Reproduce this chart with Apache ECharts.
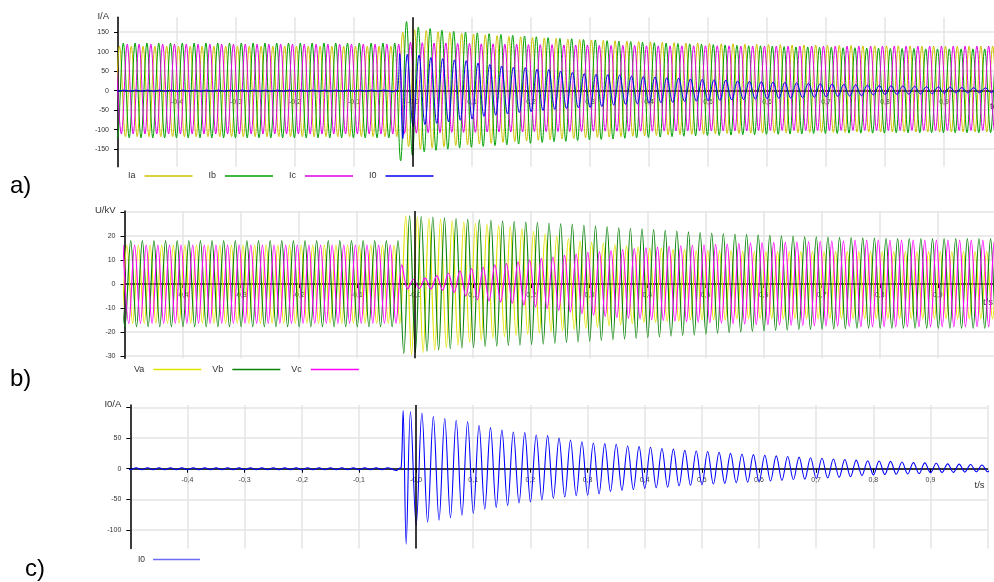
<!DOCTYPE html>
<html><head><meta charset="utf-8">
<script src="https://cdn.jsdelivr.net/npm/echarts@6/dist/echarts.min.js"></script>
<style>html,body{margin:0;padding:0;background:#fff}#c{width:994px;height:582px}</style>
</head><body><div id="c"></div>
<script>
// ---- time base: extremes every half period of a 50 Hz signal ----
const HALF = 0.01, PERIOD = 0.02;

// ---- tick labels ----
const X_MIN = -0.5, X_MAX = 1.0, X_STEP = 0.1;
const A_TICKS = [-150, -100, -50, 0, 50, 100, 150];
const B_TICKS = [-30, -20, -10, 0, 10, 20, 30];
const B_LABELS = [-30, -20, -10, 0, 10, 20];
const C_TICKS = [-100, -50, 0, 50, 100];
const C_LABELS = [-100, -50, 0, 50];

// ---- a) phase currents: successive positive peaks / negative troughs (A) ----
const IA_T0 = -0.5175;
const IA_PK = [114,114,114,114,114,114,114,114,114,114,114,114,114,114,114,114,114,114,114,114,114,114,114,114,114,
  150,156,154,151,149,147,145,143,141,139,138,136,135,134,132,131,130,129,128,127,126,125,124,123,122,122,121,120,120,119,
  119,118,118,117,117,117,116,116,116,115,115,115,115,115,114,114,114,114,114,114,114,114];
const IA_TR = [-118,-118,-118,-118,-118,-118,-118,-118,-118,-118,-118,-118,-118,-118,-118,-118,-118,-118,-118,-118,-118,-118,-118,-118,-118,
  -144,-150,-147,-144,-141,-139,-137,-135,-133,-131,-129,-127,-126,-124,-123,-121,-120,-119,-118,-117,-116,-115,-114,-113,-112,
  -112,-111,-110,-110,-109,-109,-108,-108,-108,-107,-107,-107,-107,-106,-106,-106,-106,-106,-106,-106,-106,-106,-106,-106,-106,-106,-106];

const IB_T0 = -0.5110;
const IB_PK = [122,122,122,122,122,122,122,122,122,122,122,122,122,122,122,122,122,122,122,122,122,122,122,122,122,
  177,163,159,155,152,150,148,146,144,142,140,138,136,134,133,131,130,128,127,126,124,123,122,121,120,119,118,117,116,115,
  115,114,113,112,112,111,111,110,110,109,109,108,108,108,107,107,107,107,107,107,107,107];
const IB_TR = [-121,-121,-121,-121,-121,-121,-121,-121,-121,-121,-121,-121,-121,-121,-121,-121,-121,-121,-121,-121,-121,-121,-121,-121,
  -180,-166,-157,-153,-150,-147,-145,-143,-141,-139,-137,-135,-133,-131,-130,-128,-126,-125,-124,-122,-121,-120,-119,-118,-117,
  -116,-115,-115,-114,-113,-113,-112,-112,-111,-111,-110,-110,-110,-109,-109,-109,-109,-108,-108,-108,-108,-108,-108,-108,-108,-108,-108,-108];

const IC_T0 = -0.5043;
const IC_PK = [119,119,119,119,119,119,119,119,119,119,119,119,119,119,119,119,119,119,119,119,119,119,119,119,119,
  124,123,122,122,121,121,120,120,119,119,118,118,118,117,117,117,116,116,116,116,115,115,115,115,115,115,115,115,114,114,
  114,114,114,114,114,114,114,114,114,114,114,114,114,114,114,114,114,114,114,114,114,114];
const IC_TR = [-111,-111,-111,-111,-111,-111,-111,-111,-111,-111,-111,-111,-111,-111,-111,-111,-111,-111,-111,-111,-111,-111,-111,-111,
  -110,-109,-108,-108,-107,-107,-107,-106,-106,-106,-106,-105,-105,-105,-105,-105,-104,-104,-104,-104,-104,-104,-103,-103,-103,
  -103,-103,-103,-103,-103,-102,-102,-102,-102,-102,-102,-102,-102,-102,-102,-102,-102,-102,-102,-102,-102,-102,-102,-102,-102,-102,-102,-102];

// ---- zero-sequence current I0 (A): pre-fault ripple, fault transient, decaying oscillation ----
const I0_PRE_T0 = -0.5098;
const I0_PRE_PK = [1.5,1.5,1.5,1.5,1.5,1.5,1.5,1.5,1.5,1.5,1.5,1.5,1.5,1.5,1.5,1.5,1.5,1.5,1.5,1.5,1.5,1.5,1.5,1.5];
const I0_PRE_TR = [-1.5,-1.5,-1.5,-1.5,-1.5,-1.5,-1.5,-1.5,-1.5,-1.5,-1.5,-1.5,-1.5,-1.5,-1.5,-1.5,-1.5,-1.5,-1.5,-1.5,-1.5,-1.5,-1.5,-1.5];
const I0_TRANS_T = [-0.034, -0.030, -0.026, -0.0226, -0.0173];
const I0_TRANS_V = [-3, 0.5, 2, 95, -123];
const I0_T0 = -0.0098;
const I0_PK = [93,91,85,82,79,77,71,67,63,60,59,55,54,50,47,44,42,41,40,37,36,35,33,32,30,29,28,27,25,24,
  23,22,21,20,19,18,17,16,15,14,13,12.5,12,11,10,9.5,9,8,7.5,7,6,6];
const I0_TR = [-92,-87,-84,-80,-76,-73,-66,-63,-60,-56,-54,-51,-48,-46,-44,-43,-41,-37,-35,-34,-32,-31,-30,-28,
  -27,-26,-25,-24,-23,-22,-21,-20,-19,-18,-17,-16,-15,-14,-13,-11,-10,-9.5,-9,-8.5,-8,-6.5,-6,-6,-5.5,-5,-5,-5];

// ---- b) phase voltages (kV) ----
const VA_T0 = -0.5160;
const VA_PK = [16.3,16.3,16.3,16.3,16.3,16.3,16.3,16.3,16.3,16.3,16.3,16.3,16.3,16.3,16.3,16.3,16.3,16.3,16.3,16.3,16.3,16.3,16.3,16.3,16.3,
  28.5,28,27.5,27,26.5,26,25.5,25,24.5,24,23,22,21,20,19,18,17.5,17,16.5,16,15.5,15,15,14.5,14.5,14,14,14,14,
  13.5,13.5,13.5,13.5,13.5,13.5,13.5,13.5,13.5,13.5,13.5,13.5,13.5,13.5,13.5,13.5,13.5,13.5,13.5,13.5,13.5,13.5,13.5];
const VA_TR = [-16.4,-16.4,-16.4,-16.4,-16.4,-16.4,-16.4,-16.4,-16.4,-16.4,-16.4,-16.4,-16.4,-16.4,-16.4,-16.4,-16.4,-16.4,-16.4,-16.4,-16.4,-16.4,-16.4,-16.4,-16.4,
  -29.5,-28.5,-27.5,-26.5,-25.5,-24.5,-23.5,-22.5,-22,-21.5,-21,-20.5,-20,-19.5,-19,-18.5,-18,-17.5,-17,-16.5,-16,-16,-15.5,-15.5,-15,-15,-15,-15,
  -14.5,-14.5,-14.5,-14.5,-14.5,-14.5,-14.5,-14.5,-14.5,-14.5,-14.5,-14.5,-14.5,-14.5,-14.5,-14.5,-14.5,-14.5,-14.5,-14.5,-14.5,-14.5,-14.5,-14.5];

const VB_T0 = -0.5093;
const VB_PK = [18.1,18.1,18.1,18.1,18.1,18.1,18.1,18.1,18.1,18.1,18.1,18.1,18.1,18.1,18.1,18.1,18.1,18.1,18.1,18.1,18.1,18.1,18.1,18.1,18.1,
  28.5,28.2,28,27.6,27.3,27,26.8,26.6,26.4,26.2,26,25.8,25.5,25.2,25,24.6,24.3,24,23.6,23.3,23,22.7,22.4,22.1,21.8,21.5,21.3,21.1,20.9,20.7,
  20.5,20.3,20.1,20,19.8,19.7,19.6,19.5,19.4,19.3,19.2,19.1,19,19,19,19,19,19,19,19,19,19];
const VB_TR = [-17.8,-17.8,-17.8,-17.8,-17.8,-17.8,-17.8,-17.8,-17.8,-17.8,-17.8,-17.8,-17.8,-17.8,-17.8,-17.8,-17.8,-17.8,-17.8,-17.8,-17.8,-17.8,-17.8,-17.8,
  -29,-28.5,-28,-27.5,-27,-26.7,-26.4,-26.1,-25.9,-25.7,-25.5,-25.3,-25.1,-24.8,-24.5,-24.2,-23.9,-23.6,-23.3,-23,-22.7,-22.4,-22.1,-21.8,-21.5,-21.2,-20.9,-20.6,-20.3,-20,
  -19.8,-19.6,-19.4,-19.2,-19,-18.9,-18.8,-18.7,-18.6,-18.5,-18.5,-18.5,-18.5,-18.5,-18.5,-18.5,-18.5,-18.5,-18.5,-18.5,-18.5,-18.5,-18.5];

const VC_T0 = -0.5026;
const VC_PK = [16.3,16.3,16.3,16.3,16.3,16.3,16.3,16.3,16.3,16.3,16.3,16.3,16.3,16.3,16.3,16.3,16.3,16.3,16.3,16.3,16.3,16.3,16.3,16.3,
  8,2,2.5,3.5,4.5,5.5,6.5,7,8,8.5,9.3,10,10.7,11.3,12,12.5,13.2,13.6,14,14.4,14.8,15.1,15.4,15.7,16,16.2,16.4,16.6,16.8,17,
  17.2,17.3,17.4,17.5,17.6,17.7,17.8,17.9,18,18.3,18.3,18.3,18.3,18.3,18.3,18.3,18.3,18.3,18.3,18.3,18.3,18.3,18.3];
const VC_TR = [-16.4,-16.4,-16.4,-16.4,-16.4,-16.4,-16.4,-16.4,-16.4,-16.4,-16.4,-16.4,-16.4,-16.4,-16.4,-16.4,-16.4,-16.4,-16.4,-16.4,-16.4,-16.4,-16.4,-16.4,
  -2,-1.8,-2,-2.5,-3.5,-5,-6.5,-7,-7.5,-8,-8.7,-9.5,-10.2,-11,-11.7,-12.4,-13,-13.5,-14,-14.3,-14.6,-14.9,-15.2,-15.5,-15.7,
  -15.9,-16.1,-16.3,-16.5,-16.7,-16.9,-17,-17.1,-17.2,-17.3,-17.4,-17.5,-17.6,-17.7,-17.8,-17.8,-17.8,-17.8,-17.8,-17.8,-17.8,-17.8,-17.8,-17.8,-17.8,-17.8,-17.8,-17.8];

// ---- build point lists ----
function wave(t0, pk, tr) {
  const out = [];
  for (let k = 0; k < pk.length; k++) {
    out.push([+(t0 + PERIOD * k).toFixed(4), pk[k]]);
    if (k < tr.length) out.push([+(t0 + PERIOD * k + HALF).toFixed(4), tr[k]]);
  }
  return out;
}
const I0_DATA = wave(I0_PRE_T0, I0_PRE_PK, I0_PRE_TR)
  .concat(I0_TRANS_T.map((t, i) => [t, I0_TRANS_V[i]]))
  .concat(wave(I0_T0, I0_PK, I0_TR));

const FONT = 'Liberation Sans, Arial, sans-serif';
const fmtX = v => (Math.abs(v) < 1e-9 ? '-0,0' : (+v).toFixed(1).replace('.', ','));

// grid geometry (pixels) and y ranges
const GRIDS = [
  { left: 118, width: 885, top: 17.3, height: 149.4, ymin: -195, ymax: 188 },
  { left: 124.5, width: 871.5, top: 211, height: 147.3, ymin: -31, ymax: 30.5 },
  { left: 130.3, width: 857.3, top: 405, height: 143.4, ymin: -130, ymax: 104 }
];
const zeroOffset = g => -(g.height * (0 - g.ymin) / (g.ymax - g.ymin));

function xAxis(gi, gap, nameDy) {
  return {
    type: 'value', gridIndex: gi, min: X_MIN, max: X_MAX, interval: X_STEP,
    position: 'bottom', offset: zeroOffset(GRIDS[gi]),
    axisLine: { onZero: false, lineStyle: { color: '#000', width: 1.5 } },
    axisTick: { show: true, length: 4, lineStyle: { color: '#000', width: 1 } },
    axisLabel: { fontSize: 7, color: '#444', margin: 8, showMinLabel: false, showMaxLabel: false, formatter: fmtX, fontFamily: FONT },
    splitLine: { show: true, lineStyle: { color: '#e4e4e4', width: 1.5 } },
    name: 't/s', nameLocation: 'end', nameGap: gap,
    nameTextStyle: { fontSize: 9.5, color: '#333', align: 'right', verticalAlign: 'top', padding: [nameDy, 0, 0, 0], fontFamily: FONT }
  };
}
function yAxis(gi, ticks, labels, name) {
  const g = GRIDS[gi];
  return {
    type: 'value', gridIndex: gi, min: g.ymin, max: g.ymax,
    axisLine: { show: true, onZero: false, lineStyle: { color: '#000', width: 1.5 } },
    axisTick: { show: true, length: 4, customValues: ticks, lineStyle: { color: '#000', width: 1 } },
    axisLabel: { fontSize: 7, color: '#333', margin: 9, customValues: labels, fontFamily: FONT },
    splitLine: { show: true, lineStyle: { color: '#e4e4e4', width: 1.5 } },
    name: name, nameLocation: 'end', nameGap: 1,
    nameTextStyle: { fontSize: 9.5, color: '#333', align: 'right', verticalAlign: 'middle', padding: [0, 9, 0, 0], fontFamily: FONT }
  };
}
const ZERO_MARK = {
  silent: true, symbol: ['none', 'none'], label: { show: false },
  lineStyle: { color: '#000', width: 1.5, type: 'solid' }, data: [{ xAxis: 0 }]
};
function line(name, gi, data, color, width, mark) {
  const s = {
    name: name, type: 'line', xAxisIndex: gi, yAxisIndex: gi, data: data,
    smooth: 0.36, showSymbol: false, symbol: 'none', silent: true,
    lineStyle: { color: color, width: width }, itemStyle: { color: color }
  };
  if (mark) s.markLine = ZERO_MARK;
  return s;
}

const chart = echarts.init(document.getElementById('c'), null, { renderer: 'canvas' });
chart.setOption({
  animation: false,
  backgroundColor: '#fff',
  textStyle: { fontFamily: FONT },
  grid: GRIDS.map(g => ({ left: g.left, width: g.width, top: g.top, height: g.height, containLabel: false, outerBoundsMode: 'none' })),
  xAxis: [xAxis(0, -3, 11), xAxis(1, -3, 13), xAxis(2, -3, 12)],
  yAxis: [
    yAxis(0, A_TICKS, A_TICKS, 'I/A'),
    yAxis(1, B_TICKS, B_LABELS, 'U/kV'),
    yAxis(2, C_TICKS, C_LABELS, 'I0/A')
  ],
  legend: [
    { data: ['Ia', 'Ib', 'Ic', 'I0'], left: 128, top: 171.5, padding: 0, align: 'right', icon: 'rect',
      itemWidth: 48, itemHeight: 1.5, itemGap: 16, textStyle: { fontSize: 9, color: '#333', padding: [0, 4, 0, 0], fontFamily: FONT } },
    { data: ['Va', 'Vb', 'Vc'], left: 134, top: 365, padding: 0, align: 'right', icon: 'rect',
      itemWidth: 48, itemHeight: 1.5, itemGap: 11, textStyle: { fontSize: 9, color: '#333', padding: [0, 4, 0, 0], fontFamily: FONT } },
    { data: [{ name: 'I0 ', itemStyle: { color: '#6b6bf5' } }], left: 138, top: 555, padding: 0, align: 'right', icon: 'rect',
      itemWidth: 47, itemHeight: 1.5, formatter: n => n.trim(),
      textStyle: { fontSize: 8.5, color: '#333', padding: [0, 3, 0, 0], fontFamily: FONT } }
  ],
  graphic: [
    { type: 'text', left: 10, top: 174, style: { text: 'a)', fontSize: 24, fill: '#000', fontFamily: FONT } },
    { type: 'text', left: 10, top: 367, style: { text: 'b)', fontSize: 24, fill: '#000', fontFamily: FONT } },
    { type: 'text', left: 25, top: 557, style: { text: 'c)', fontSize: 24, fill: '#000', fontFamily: FONT } }
  ],
  series: [
    line('Ia', 0, wave(IA_T0, IA_PK, IA_TR), '#cdc200', 1, true),
    line('Ib', 0, wave(IB_T0, IB_PK, IB_TR), '#00a000', 1, false),
    line('Ic', 0, wave(IC_T0, IC_PK, IC_TR), '#e000e0', 1, false),
    line('I0', 0, I0_DATA, '#0000ee', 1, false),
    line('Va', 1, wave(VA_T0, VA_PK, VA_TR), '#e3e300', 1.2, true),
    line('Vb', 1, wave(VB_T0, VB_PK, VB_TR), '#0a840a', 1.2, false),
    line('Vc', 1, wave(VC_T0, VC_PK, VC_TR), '#ff00ff', 1.2, false),
    line('I0 ', 2, I0_DATA, '#0000ff', 1.1, true)
  ]
});
</script></body></html>
